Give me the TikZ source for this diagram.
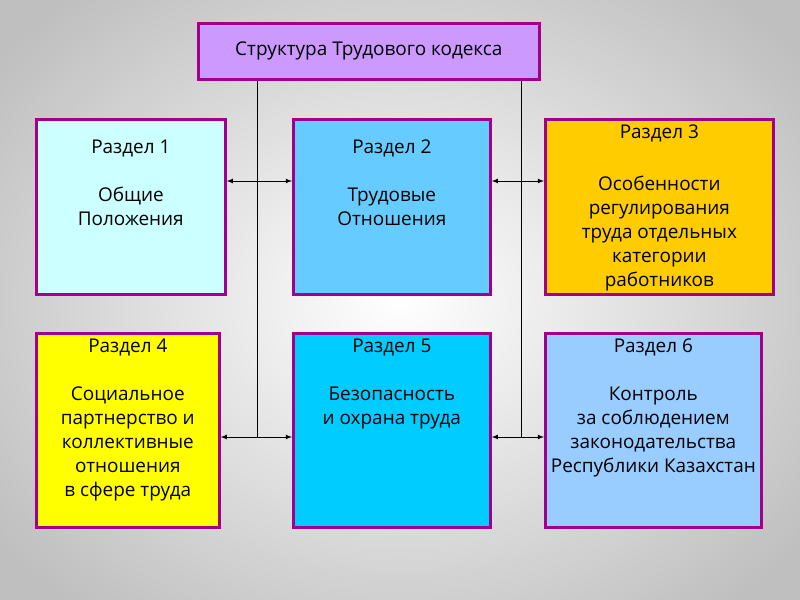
\documentclass[tikz,border=0pt]{standalone}
\usepackage{fontspec}
\setmainfont{Open Sans}
\begin{document}
\begin{tikzpicture}[x=0.75pt,y=-0.75pt,
  box/.style={line width=2pt,anchor=north west,inner sep=0pt},
  lbl/.style={anchor=north,align=center,inner sep=2pt,font=\fontsize{14.2pt}{18pt}\selectfont},
  conn/.style={line width=0.6pt},
  dbl/.style={conn,<->,>=latex}]
\definecolor{bord}{HTML}{A0008C}
\definecolor{cT}{HTML}{CC99FF}
\definecolor{c1}{HTML}{CCFFFF}
\definecolor{c2}{HTML}{66CCFF}
\definecolor{c3}{HTML}{FFCC00}
\definecolor{c4}{HTML}{FFFF00}
\definecolor{c5}{HTML}{00CCFF}
\definecolor{c6}{HTML}{99CCFF}
\tikzset{box/.append style={draw=bord}}
\useasboundingbox (0,0) rectangle (800,600);
\begin{scope}
\clip (0,0) rectangle (800,600);
\shade[inner color=white,outer color=black!25] (-100,-100) rectangle (900,700);
\end{scope}
\node[box,fill=cT,minimum width=341*0.75pt,minimum height=56*0.75pt] (t) at (197,22) {};
\node[lbl,anchor=center] at (t.center) {Структура Трудового кодекса};
\node[box,fill=c1,minimum width=189*0.75pt,minimum height=175*0.75pt] (b1) at (35,118) {};
\node[box,fill=c2,minimum width=197*0.75pt,minimum height=175*0.75pt] (b2) at (292,118) {};
\node[box,fill=c3,minimum width=228*0.75pt,minimum height=175*0.75pt] (b3) at (544,118) {};
\node[box,fill=c4,minimum width=183*0.75pt,minimum height=194*0.75pt] (b4) at (35,332) {};
\node[box,fill=c5,minimum width=197*0.75pt,minimum height=194*0.75pt] (b5) at (292,332) {};
\node[box,fill=c6,minimum width=216*0.75pt,minimum height=194*0.75pt] (b6) at (544,332) {};
\node[lbl] at ([yshift=-14pt]b1.north) {Раздел 1\\[18pt]Общие\\Положения};
\node[lbl] at ([yshift=-14pt]b2.north) {Раздел 2\\[18pt]Трудовые\\Отношения};
\node[lbl] at ([yshift=-3pt]b3.north) {Раздел 3\\[21pt]Особенности\\регулирования\\труда отдельных\\категории\\работников};
\node[lbl] at ([yshift=-3pt]b4.north) {Раздел 4\\[18pt]Социальное\\партнерство и\\коллективные\\отношения\\в сфере труда};
\node[lbl] at ([yshift=-3pt]b5.north) {Раздел 5\\[18pt]Безопасность\\и охрана труда};
\node[lbl] at ([yshift=-3pt]b6.north) {Раздел 6\\[18pt]Контроль\\за соблюдением\\законодательства\\Республики Казахстан};
\coordinate (vl) at (257,437);
\coordinate (vr) at (521,437);
\draw[conn] (t.south -| vl) -- (vl);
\draw[conn] (t.south -| vr) -- (vr);
\draw[dbl] (b1.east |- 0,181) -- (b2.west |- 0,181);
\draw[dbl] (b2.east |- 0,181) -- (b3.west |- 0,181);
\draw[dbl] (b4.east |- vl) -- (b5.west |- vl);
\draw[dbl] (b5.east |- vr) -- (b6.west |- vr);
\end{tikzpicture}
\end{document}
